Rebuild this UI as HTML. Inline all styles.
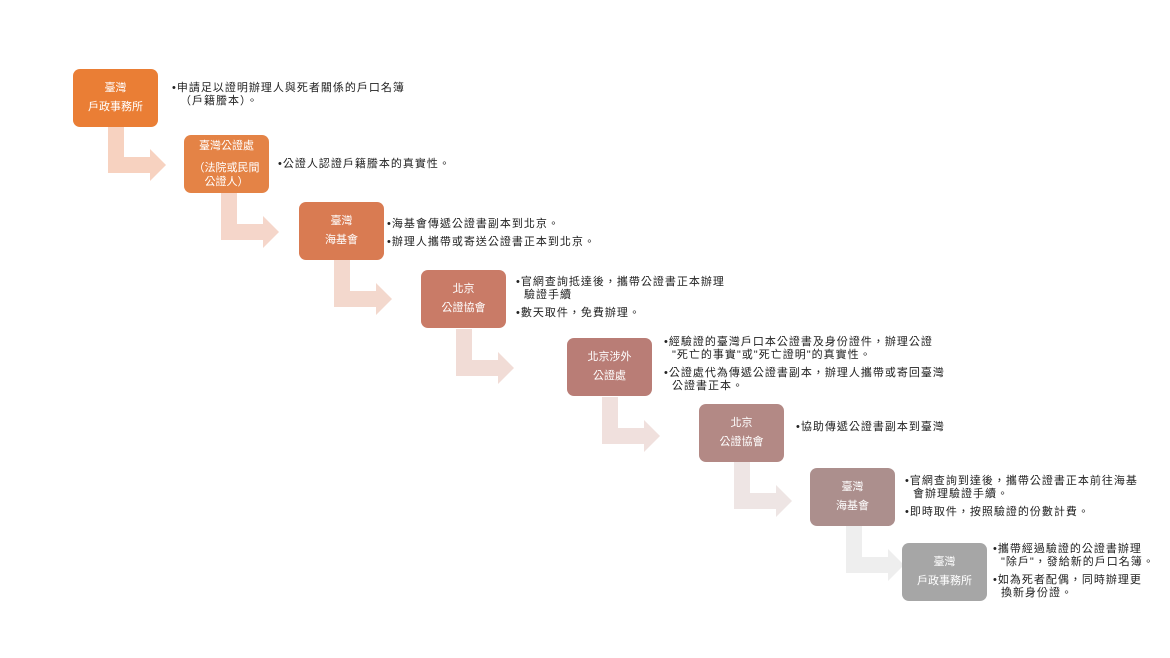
<!DOCTYPE html>
<html><head><meta charset="utf-8"><style>
body{margin:0;width:1170px;height:658px;background:#fff;position:relative;overflow:hidden;font-family:"Liberation Sans","Noto Sans CJK TC",sans-serif;}
.b{position:absolute;width:85px;height:58px;border-radius:7px;color:#fff;font-size:11px;display:flex;flex-direction:column;justify-content:center;align-items:center;text-align:center;line-height:19px;}
.t{position:absolute;font-size:11px;letter-spacing:1px;color:#222;line-height:13px;}
.t p{margin:0 0 5px 0;padding-left:8px;text-indent:-8px;}
svg{position:absolute;left:0;top:0;}
</style></head><body>
<svg width="1170" height="658">
<g>
<path d="M108 126h16v31h26v-8l16 16-16 16v-8h-42z" fill="#f7d2c0"/>
<path d="M221 193h16v31h26v-8l16 16-16 16v-8h-42z" fill="#f5d6ca"/>
<path d="M334 260h16v31h26v-8l16 16-16 16v-8h-42z" fill="#f3d8cd"/>
<path d="M456 329h16v31h26v-8l16 16-16 16v-8h-42z" fill="#f1dcd6"/>
<path d="M602 397h16v31h26v-8l16 16-16 16v-8h-42z" fill="#f0e0dd"/>
<path d="M734 462h16v31h26v-8l16 16-16 16v-8h-42z" fill="#eee5e4"/>
<path d="M846 526h16v31h26v-8l16 16-16 16v-8h-42z" fill="#eeeeee"/>
</g>
</svg>
<div class="b" style="left:73px;top:69px;background:#ea7e35">臺灣<br>戶政事務所</div>
<div class="b" style="left:184px;top:135px;background:#e48346;line-height:14px">臺灣公證處<br><span style="margin-top:8px">（法院或民間<br>公證人）</span></div>
<div class="b" style="left:299px;top:202px;background:#d97b52">臺灣<br>海基會</div>
<div class="b" style="left:421px;top:270px;background:#c97b67">北京<br>公證協會</div>
<div class="b" style="left:567px;top:338px;background:#b97d76">北京涉外<br>公證處</div>
<div class="b" style="left:699px;top:404px;background:#b38985">北京<br>公證協會</div>
<div class="b" style="left:810px;top:468px;background:#ac8f8d">臺灣<br>海基會</div>
<div class="b" style="left:902px;top:543px;background:#a6a6a6">臺灣<br>戶政事務所</div>

<div class="t" style="left:172px;top:82px"><p>•申請足以證明辦理人與死者關係的戶口名簿<br>（戶籍謄本）。</p></div>
<div class="t" style="left:278px;top:158px"><p>•公證人認證戶籍謄本的真實性。</p></div>
<div class="t" style="left:387px;top:218px"><p>•海基會傳遞公證書副本到北京。</p><p>•辦理人攜帶或寄送公證書正本到北京。</p></div>
<div class="t" style="left:516px;top:276px"><p>•官網查詢抵達後，攜帶公證書正本辦理<br>驗證手續</p><p>•數天取件，免費辦理。</p></div>
<div class="t" style="left:664px;top:336px"><p>•經驗證的臺灣戶口本公證書及身份證件，辦理公證<br>"死亡的事實"或"死亡證明"的真實性。</p><p>•公證處代為傳遞公證書副本，辦理人攜帶或寄回臺灣<br>公證書正本。</p></div>
<div class="t" style="left:796px;top:421px"><p>•協助傳遞公證書副本到臺灣</p></div>
<div class="t" style="left:905px;top:475px"><p>•官網查詢到達後，攜帶公證書正本前往海基<br>會辦理驗證手續。</p><p>•即時取件，按照驗證的份數計費。</p></div>
<div class="t" style="left:993px;top:543px"><p>•攜帶經過驗證的公證書辦理<br>"除戶"，發給新的戶口名簿。</p><p>•如為死者配偶，同時辦理更<br>換新身份證。</p></div>
</body></html>
